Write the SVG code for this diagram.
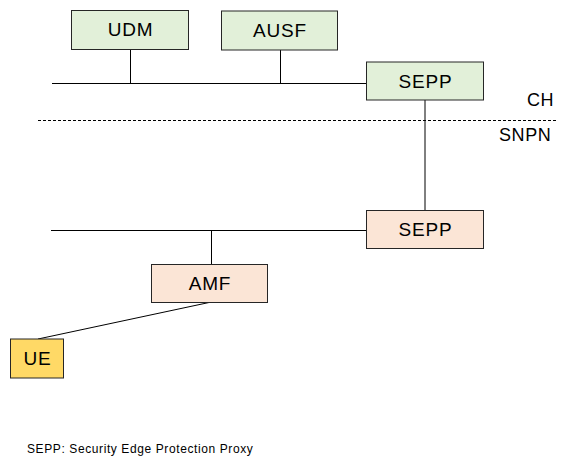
<svg xmlns="http://www.w3.org/2000/svg" width="573" height="466" viewBox="0 0 573 466">
<style>
.n{stroke:#262626;stroke-width:1}
.g{fill:#E2F0D9}
.p{fill:#FBE5D6}
.y{fill:#FFD966}
.t{font-family:"Liberation Sans",Arial,sans-serif;font-size:19px;letter-spacing:0.8px;fill:#000;text-anchor:middle}
.l{font-family:"Liberation Sans",Arial,sans-serif;font-size:18px;letter-spacing:0.6px;fill:#000}
.c{stroke:#000;stroke-width:1;fill:none}
</style>
<rect width="573" height="466" fill="#fff"/>
<g id="connectors">
<line class="c" x1="52" y1="83.5" x2="367" y2="83.5"/>
<line class="c" x1="130.5" y1="49.5" x2="130.5" y2="83.5"/>
<line class="c" x1="280.5" y1="50" x2="280.5" y2="83.5"/>
<line class="c" x1="425" y1="100" x2="425" y2="210.5"/>
<line class="c" x1="51" y1="230.5" x2="367" y2="230.5"/>
<line class="c" x1="211.5" y1="230.5" x2="211.5" y2="264.5"/>
<line class="c" x1="209" y1="302.5" x2="38" y2="339"/>
</g>
<line id="boundary" x1="38" y1="120.5" x2="557" y2="120.5" stroke="#000" stroke-width="1" stroke-dasharray="3,2"/>
<g id="UDM"><rect class="n g" x="71.5" y="10.5" width="117" height="39"/><text class="t" x="130.5" y="36">UDM</text></g>
<g id="AUSF"><rect class="n g" x="221.5" y="11" width="116" height="39"/><text class="t" x="280" y="37">AUSF</text></g>
<g id="SEPP_CH"><rect class="n g" x="366.5" y="62" width="117" height="38"/><text class="t" x="425.5" y="88">SEPP</text></g>
<g id="SEPP_SNPN"><rect class="n p" x="366.5" y="210.5" width="117" height="38"/><text class="t" x="425.5" y="236">SEPP</text></g>
<g id="AMF"><rect class="n p" x="151.5" y="264.5" width="116" height="38"/><text class="t" x="210" y="290">AMF</text></g>
<g id="UE"><rect class="n y" x="10.5" y="339" width="53" height="39"/><text class="t" x="37.5" y="365">UE</text></g>
<text class="l" x="527" y="106">CH</text>
<text class="l" x="499" y="141">SNPN</text>
<text x="27" y="452.5" font-family="Liberation Sans,Arial,sans-serif" font-size="12" letter-spacing="0.6" fill="#000">SEPP: Security Edge Protection Proxy</text>
</svg>
